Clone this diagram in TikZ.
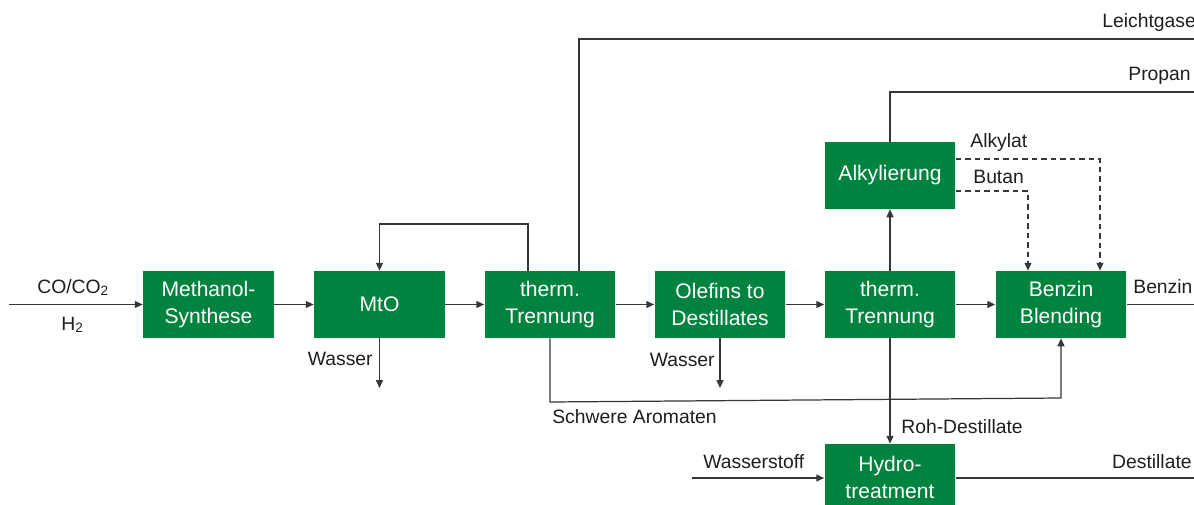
\documentclass[tikz,border=0pt]{standalone}
\usepackage{fontspec}
\setmainfont{Liberation Sans}
\usetikzlibrary{arrows.meta}
\definecolor{boxgreen}{RGB}{0,131,62}
\definecolor{linegray}{RGB}{55,55,55}
\definecolor{labelgray}{RGB}{30,30,30}
\tikzset{
  procbox/.style={rectangle, fill=boxgreen, draw=none, text=white, minimum width=2.62cm, minimum height=1.34cm, inner sep=0pt, align=center, font=\fontsize{12}{15.3}\selectfont},
  flow/.style={draw=linegray, line width=0.7pt},
  arr/.style={flow, -{Triangle[length=4.5pt,width=4pt]}},
  dflow/.style={arr, dash pattern=on 3.2pt off 2.2pt},
  lab/.style={inner sep=0pt, text=labelgray, font=\fontsize{11}{13}\selectfont}
}
\begin{document}
\begin{tikzpicture}[x=0.02cm, y=-0.02cm]
\useasboundingbox (0,0) rectangle (1194,504);
\clip (0,0) rectangle (1194,504);
% process boxes
\node[procbox] (meth) at (208.5,304.5) {Methanol-\\Synthese};
\node[procbox] (mto) at (379.5,304.5) {MtO};
\node[procbox] (tr1) at (550,304.5) {therm.\\Trennung};
\node[procbox] (otd) at (720,304.5) {Olefins to\\Destillates};
\node[procbox] (tr2) at (890,304.5) {therm.\\Trennung};
\node[procbox] (bb) at (1061,304.5) {Benzin\\Blending};
\node[procbox] (alk) at (890,175.5) {Alkylierung};
\node[procbox] (hyd) at (890,477.5) {Hydro-\\treatment};
% free ends
\coordinate (in) at (9,304.5);
\coordinate (rec1) at (528,224);
\coordinate (rec2) at (379.5,224);
\coordinate (lg1) at (579,39);
\coordinate (lgout) at (1194,39);
\coordinate (pr1) at (890,92);
\coordinate (prout) at (1194,92);
\coordinate (w1) at (379.5,388);
\coordinate (w2) at (720,388);
\coordinate (sa1) at (550,402);
\coordinate (sa2) at (1061,398);
\coordinate (bout) at (1194,304.5);
\coordinate (h2in) at (692,478);
\coordinate (dout) at (1194,478);
\coordinate (ak1) at (1100,159);
\coordinate (bu1) at (1028,191);
% main row
\draw[arr] (in) -- (meth);
\draw[arr] (meth) -- (mto);
\draw[arr] (mto) -- (tr1);
\draw[arr] (tr1) -- (otd);
\draw[arr] (otd) -- (tr2);
\draw[arr] (tr2) -- (bb);
\draw[flow] (bb) -- (bout);
% recycle
\draw[arr] (tr1.north -| rec1) -- (rec1) -- (rec2) -- (mto.north);
% Leichtgase
\draw[flow] (tr1.north -| lg1) -- (lg1) -- (lgout);
% Propan
\draw[flow] (alk.north) -- (pr1) -- (prout);
% Wasser
\draw[arr] (mto.south) -- (w1);
\draw[arr] (otd.south) -- (w2);
% Schwere Aromaten
\draw[arr] (tr1.south) -- (sa1) -- (sa2) -- (bb.south -| sa2);
% Alkylierung
\draw[arr] (tr2) -- (alk);
\draw[dflow] (alk.east |- ak1) -- (ak1) -- (bb.north -| ak1);
\draw[dflow] (alk.east |- bu1) -- (bu1) -- (bb.north -| bu1);
% Hydrotreatment
\draw[arr] (tr2) -- (hyd);
\draw[arr] (h2in) -- (hyd.west |- h2in);
\draw[flow] (hyd.east |- dout) -- (dout);
% labels
\node[lab, anchor=base west] (lco) at (37,293) {CO/CO\textsubscript{2}};
\node[lab, anchor=base west] (lh2) at (61,330) {H\textsubscript{2}};
\node[lab, anchor=base east] (lw1) at (373,365) {Wasser};
\node[lab, anchor=base east] (lw2) at (715,366) {Wasser};
\node[lab, anchor=base west] (lsa) at (552,423) {Schwere Aromaten};
\node[lab, anchor=base west] (lrd) at (901,433) {Roh-Destillate};
\node[lab, anchor=base west] (lws) at (703,468) {Wasserstoff};
\node[lab, anchor=base east] (lde) at (1192,468) {Destillate};
\node[lab, anchor=base west] (lbe) at (1133,293) {Benzin};
\node[lab, anchor=base west] (lak) at (970,147) {Alkylat};
\node[lab, anchor=base west] (lbu) at (973,183) {Butan};
\node[lab, anchor=base west] (llg) at (1102,27) {Leichtgase};
\node[lab, anchor=base west] (lpr) at (1128,80) {Propan};
\end{tikzpicture}
\end{document}
